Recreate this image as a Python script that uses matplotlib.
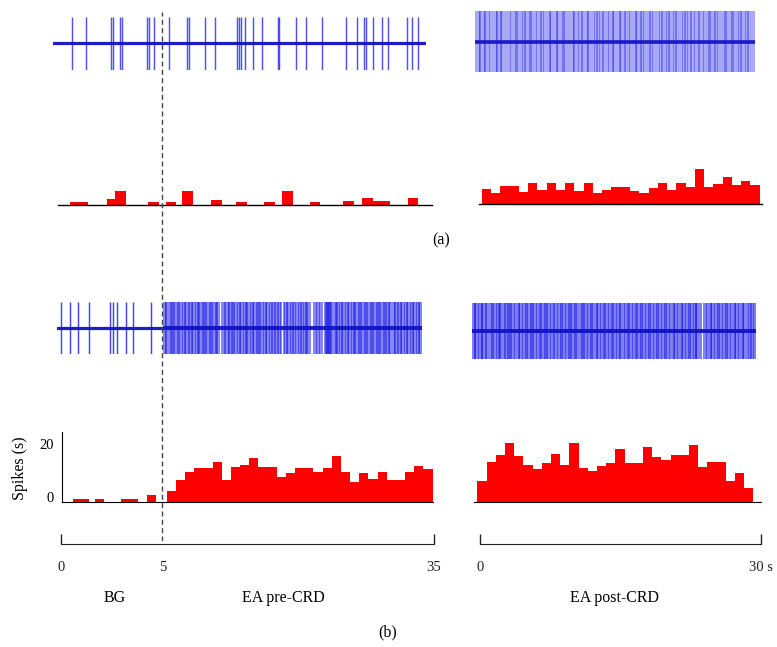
import numpy as np
import matplotlib
matplotlib.use("Agg")
import matplotlib.pyplot as plt

plt.rcParams['font.family'] = ['Liberation Serif', 'DejaVu Serif']

# ---------------- data ----------------
# (a) spike trains (s)
a_left_spikes = [1.81, 3.07, 5.47, 5.66, 6.29, 6.50, 8.79, 9.04, 9.48, 10.91, 12.55, 12.73,
                 14.23, 15.17, 17.29, 17.45, 17.61, 18.02, 18.80, 19.58, 21.11, 21.24, 22.80,
                 23.71, 25.27, 27.49, 28.50, 29.21, 29.37, 30.06, 30.84, 31.46, 33.19, 33.66, 34.28]
a_right_spikes = [0.05, 0.22, 0.41, 0.55, 0.78, 0.95, 1.12, 1.30, 1.52, 1.66, 1.85, 2.08, 2.25, 2.40,
                  2.62, 2.80, 2.97, 3.18, 3.33, 3.55, 3.74, 3.90, 4.12, 4.28, 4.47, 4.66, 4.85, 5.02,
                  5.21, 5.40, 5.63, 5.80, 5.95, 6.18, 6.36, 6.55, 6.71, 6.92, 7.10, 7.31, 7.47, 7.66,
                  7.88, 8.05, 8.22, 8.43, 8.60, 8.81, 8.97, 9.15, 9.38, 9.55, 9.72, 9.94, 10.10, 10.30,
                  10.48, 10.66, 10.85, 11.05, 11.22, 11.43, 11.60, 11.78, 11.98, 12.15, 12.36, 12.52,
                  12.73, 12.90, 13.10, 13.30, 13.46, 13.67, 13.85, 14.02, 14.25, 14.40, 14.60, 14.80,
                  14.97, 15.18, 15.35, 15.56, 15.72, 15.93, 16.12, 16.30, 16.50, 16.66, 16.88, 17.05,
                  17.25, 17.42, 17.63, 17.80, 18.01, 18.18, 18.40, 18.56, 18.75, 18.95, 19.12, 19.33,
                  19.50, 19.70, 19.88, 20.08, 20.25, 20.46, 20.62, 20.83, 21.00, 21.21, 21.38, 21.58,
                  21.77, 21.95, 22.16, 22.33, 22.52, 22.72, 22.90, 23.10, 23.28, 23.47, 23.65, 23.86,
                  24.03, 24.22, 24.41, 24.60, 24.78, 24.98, 25.15, 25.36, 25.53, 25.72, 25.92, 26.10,
                  26.30, 26.47, 26.67, 26.85, 27.05, 27.22, 27.42, 27.60, 27.80, 27.97, 28.17, 28.35,
                  28.55, 28.73, 28.92, 29.10, 29.30, 29.48, 29.68, 29.88,
                  0.58, 1.15, 2.43, 2.83, 4.50, 5.43, 5.98, 7.13, 8.08, 8.84, 9.41, 10.69, 11.46,
                  12.18, 13.13, 13.70, 14.83, 15.59, 16.15, 17.28, 17.83, 18.78, 20.11, 20.86, 21.61,
                  22.55, 23.13, 24.06, 25.18, 25.75, 26.88, 27.63, 28.58, 29.33]

# (a) histograms (spikes per 1-s bin)
a_left_bin_start = [1.09, 1.77, 4.61, 5.33, 8.42, 10.07, 11.63, 14.31, 16.65, 19.27, 20.95,
                    23.55, 26.66, 28.44, 29.45, 30.10, 32.71]
a_left_counts = [1, 1, 2.2, 5, 1, 1, 5, 1.6, 1, 1, 5, 1, 1.4, 2.5, 1.4, 1.4, 2.5]
a_right_counts = [5.6, 4.3, 6.9, 6.9, 4.5, 7.8, 5.5, 7.8, 5.5, 7.8, 5.1, 7.9, 4.3, 5.3, 6.3,
                  6.3, 4.9, 4.1, 6.1, 7.9, 5.4, 7.8, 6.4, 13.4, 6.3, 7.5, 10.1, 7.3, 8.9, 7.4]

# (b) spike trains (s)
b_bg_spikes = [0.16, 0.60, 0.99, 1.51, 2.49, 2.62, 2.81, 3.25, 3.60, 4.43]
b_ea_spikes = [5.05, 5.22, 5.35, 5.61, 5.78, 5.90, 6.12, 6.30, 6.41, 6.66, 6.80, 6.95, 7.18, 7.29,
               7.50, 7.62, 7.85, 7.97, 8.15, 8.33, 8.45, 8.70, 8.82, 9.01, 9.18, 9.30, 9.52, 9.66,
               9.80, 10.02, 10.15, 10.33, 10.47, 10.70, 10.81, 11.00, 11.18, 11.30, 11.48, 11.85,
               12.02, 12.20, 12.31, 12.55, 12.68, 12.83, 13.05, 13.20, 13.33, 13.57, 13.70, 13.88,
               14.03, 14.21, 14.35, 14.58, 14.70, 14.90, 15.08, 15.22, 15.40, 15.55, 15.73, 15.90,
               16.06, 16.25, 16.38, 16.60, 16.72, 16.93, 17.10, 17.24, 17.45, 17.58, 17.80, 17.95,
               18.10, 18.30, 18.50, 18.62, 19.00, 19.15, 19.35, 19.50, 19.72, 19.88, 20.05, 20.25,
               20.40, 20.62, 20.80, 20.95, 21.18, 21.35, 21.52, 21.70, 21.85, 22.05, 22.50, 22.70,
               22.88, 23.05, 23.22, 23.38, 23.80, 23.88, 23.95, 24.02, 24.08, 24.15, 24.22, 24.28,
               24.35, 24.42, 24.50, 24.70, 24.88, 25.05, 25.20, 25.38, 25.55, 25.70, 25.90, 26.05,
               26.22, 26.40, 26.55, 26.75, 26.90, 27.08, 27.25, 27.40, 27.60, 27.75, 27.92, 28.10,
               28.28, 28.45, 28.60, 28.80, 28.95, 29.12, 29.30, 29.45, 29.65, 29.80, 29.98, 30.15,
               30.30, 30.50, 30.66, 30.82, 31.00, 31.18, 31.33, 31.52, 31.70, 31.85, 32.05, 32.20,
               32.38, 32.55, 32.72, 32.90, 33.05, 33.25, 33.40, 33.58, 33.75, 33.92, 34.10, 34.25,
               34.45, 34.60, 34.80, 34.95,
               5.40, 6.02, 6.70, 7.55, 8.38, 9.06, 9.85, 10.52, 11.22, 12.60, 13.10, 13.93,
               14.62, 15.45, 16.10, 16.97, 17.62, 18.35, 19.40, 20.10, 20.99, 21.58, 25.10,
               25.75, 26.45, 27.13, 27.80, 28.50, 29.17, 29.85, 30.55, 31.23, 31.90, 32.60,
               33.30, 33.98, 34.65]
b_post_spikes = [0.05, 0.25, 0.38, 0.50, 0.70, 0.95, 1.08, 1.20, 1.42, 1.55, 1.62, 1.85, 2.05, 2.20,
                 2.38, 2.52, 2.70, 2.88, 3.00, 3.10, 3.35, 3.50, 3.70, 3.82, 3.95, 4.15, 4.30, 4.48,
                 4.60, 4.80, 4.98, 5.12, 5.30, 5.45, 5.62, 5.78, 5.95, 6.10, 6.28, 6.40, 6.60, 6.78,
                 6.92, 7.10, 7.25, 7.45, 7.60, 7.78, 7.95, 8.10, 8.30, 8.42, 8.60, 8.80, 8.95, 9.12,
                 9.30, 9.45, 9.62, 9.80, 9.98, 10.12, 10.30, 10.48, 10.62, 10.80, 10.98, 11.15, 11.30,
                 11.50, 11.65, 11.82, 12.00, 12.15, 12.32, 12.50, 12.68, 12.82, 13.00, 13.18, 13.32,
                 13.50, 13.68, 13.85, 14.00, 14.18, 14.35, 14.52, 14.70, 14.85, 15.02, 15.20, 15.38,
                 15.52, 15.70, 15.88, 16.05, 16.20, 16.38, 16.55, 16.75, 16.90, 17.05, 17.22, 17.40,
                 17.58, 17.72, 17.90, 18.08, 18.25, 18.42, 18.58, 18.75, 18.92, 19.10, 19.28, 19.42,
                 19.60, 19.78, 19.95, 20.12, 20.30, 20.45, 20.62, 20.80, 20.95, 21.12, 21.30, 21.48,
                 21.62, 21.80, 21.98, 22.15, 22.30, 22.48, 22.65, 22.82, 23.00, 23.15, 23.32, 23.50,
                 23.62, 23.67, 23.72, 23.82, 24.00, 24.18, 24.50, 24.68, 24.85, 25.00, 25.20, 25.35,
                 25.52, 25.70, 25.88, 26.02, 26.20, 26.38, 26.55, 26.72, 26.88, 27.05, 27.22, 27.40,
                 27.58, 27.75, 27.90, 28.08, 28.25, 28.42, 28.60, 28.78, 28.95, 29.12, 29.30, 29.48,
                 29.65, 29.82, 29.98,
                 0.30, 0.75, 1.12, 2.10, 2.93, 3.55, 4.07, 5.03, 5.85, 6.45, 7.30, 7.85, 8.68,
                 9.50, 10.35, 10.90, 11.70, 12.55, 13.25, 14.05, 14.90, 15.60, 16.45, 17.30,
                 17.95, 18.80, 19.65, 20.50, 21.35, 22.20, 22.90, 25.25, 26.10, 26.95, 27.80,
                 28.65, 29.50]

# (b) histograms (spikes per bin)
b_left_bg_bin_start = [0.75, 1.56, 3.18, 5.98, 6.84, 8.86]
b_left_bg_counts = [1.2, 1.2, 1.2, 1.2, 1.2, 2.6]
b_left_ea_counts = [4.0, 8.1, 11.1, 12.6, 12.6, 14.9, 8.4, 13.0, 14.0, 16.4, 13.0, 13.0, 9.3,
                    10.8, 12.9, 12.9, 11.3, 12.6, 17.4, 11.3, 7.6, 10.8, 8.5, 11.1, 8.1, 8.1,
                    11.1, 13.6, 12.3]
b_right_counts = [7.9, 14.8, 17.6, 21.8, 17.3, 13.6, 12.1, 14.6, 17.8, 13.9, 21.8, 12.6, 11.4,
                  13.4, 14.6, 19.8, 14.6, 14.6, 20.5, 16.9, 15.6, 17.4, 17.4, 21.4, 13.0, 14.8,
                  14.8, 7.8, 10.8, 5.3]

y_ticks = [0, 20]
pre_ticks = [0, 5, 35]
pre_ticklabels = ['0', '5', '35']
post_ticks = [0, 30]
post_ticklabels = ['0', '30 s']
bg_onset = 5
ylabel = 'Spikes (s)'
segment_labels = ['BG', 'EA pre-CRD', 'EA post-CRD']
panel_labels = ['(a)', '(b)']

# ---------------- style ----------------
W, H = 777, 647
RED = '#ff0000'
SPIKE = '#2626ea'
BASE = '#1212c4'
fig = plt.figure(figsize=(W / 100, H / 100), dpi=100)


def add_ax(x0, x1, ytop, ybot):
    return fig.add_axes([x0 / W, 1 - ybot / H, (x1 - x0) / W, (ybot - ytop) / H])


def clean(ax, keep=()):
    for s in ['left', 'right', 'top', 'bottom']:
        ax.spines[s].set_visible(s in keep)
    ax.set_xticks([])
    ax.set_yticks([])
    ax.patch.set_alpha(0)


def trace(ax, spikes, t0, t1, alpha, lw, blw=2.3):
    clean(ax)
    ax.set_xlim(t0, t1)
    ax.set_ylim(-1, 1)
    ax.vlines(spikes, -1, 1, color=SPIKE, lw=lw, alpha=alpha)
    ax.axhline(0, color=BASE, lw=blw, alpha=0.95)


# (a) traces
trace(add_ax(53, 426, 16.7, 70), a_left_spikes, 0, 35, 0.8, 1.05)
trace(add_ax(474.7, 754.7, 11.3, 72.3), a_right_spikes, 0, 30, 0.52, 1.1, 2.6)

# (a) histograms
PXU = 2.67  # pixels per spike unit
ax = add_ax(58, 432, 204.7 - 20 * PXU, 204.7)
clean(ax, keep=('bottom',))
ax.spines['bottom'].set_linewidth(1.0)
ax.bar(a_left_bin_start, a_left_counts, width=1, align='edge', color=RED, linewidth=0)
ax.set_xlim(0, 35)
ax.set_ylim(0, 20)

ax = add_ax(479, 762, 204.3 - 20 * PXU, 204.3)
clean(ax, keep=('bottom',))
ax.spines['bottom'].set_linewidth(1.0)
ax.bar(np.arange(len(a_right_counts)), a_right_counts, width=1, align='edge', color=RED, linewidth=0)
ax.set_xlim(-0.3, 30.25)
ax.set_ylim(0, 20)

# (b) traces
trace(add_ax(57.3, 163, 301.7, 354), b_bg_spikes, 0, 5, 0.85, 1.05)
trace(add_ax(163, 422, 301.7, 354), b_ea_spikes, 5, 35, 0.7, 1.15, 2.8)
trace(add_ax(471.7, 756, 303, 358.7), b_post_spikes, 0, 30, 0.7, 1.2, 2.8)

# (b) histograms
ax = add_ax(62, 433, 432, 502)
clean(ax, keep=('bottom', 'left'))
ax.bar(b_left_bg_bin_start, b_left_bg_counts, width=1, align='edge', color=RED, linewidth=0)
ax.bar(np.arange(len(b_left_ea_counts)) + 11, b_left_ea_counts, width=1, align='edge',
       color=RED, linewidth=0)
ax.set_xlim(-0.41, 40.04)
ax.set_ylim(0, 70 / PXU)
ax.set_yticks(y_ticks)
ax.set_yticklabels([str(v) for v in y_ticks], fontsize=10.5)
ax.tick_params(axis='y', length=0, pad=6)
for lbl in ax.get_yticklabels():
    lbl.set_va('baseline')

ax = add_ax(474, 760.7, 433, 501.7)
clean(ax, keep=('bottom',))
ax.bar(np.arange(len(b_right_counts)), b_right_counts, width=1, align='edge', color=RED, linewidth=0)
ax.set_xlim(-0.36, 30.8)
ax.set_ylim(0, 68.7 / PXU)


# time axes (piecewise: BG 0-5 s is drawn wider than the EA part)
def fwd(t):
    t = np.asarray(t, float)
    return np.where(t <= 5, t * 20.4, 102 + (t - 5) * 9.033)


def inv(u):
    u = np.asarray(u, float)
    return np.where(u <= 102, u / 20.4, 5 + (u - 102) / 9.033)


tax = add_ax(61, 434, 530, 544)
clean(tax, keep=('bottom',))
tax.set_xscale('function', functions=(fwd, inv))
tax.set_xlim(0, 35)
tax.set_xticks(pre_ticks)
tax.set_xticklabels(pre_ticklabels, fontsize=10.5)
tax.tick_params(axis='x', direction='in', length=7.5, width=1, pad=12, colors='#222222')
tax.spines['bottom'].set_color('#222222')
tax.xaxis.get_major_ticks()[1].tick1line.set_visible(False)

pax = add_ax(480, 761, 530, 544)
clean(pax, keep=('bottom',))
pax.set_xlim(0, 30)
pax.set_xticks(post_ticks)
pax.set_xticklabels(post_ticklabels, fontsize=10.5)
pax.tick_params(axis='x', direction='in', length=7.5, width=1, pad=12, colors='#222222')
pax.spines['bottom'].set_color('#222222')

# dashed onset line
oax = add_ax(61, 434, 12, 541)
oax.axis('off')
oax.set_xscale('function', functions=(fwd, inv))
oax.set_xlim(0, 35)
oax.set_ylim(0, 1)
oax.axvline(bg_onset - 0.05, color='#444444', lw=1.0, dashes=(3.6, 2.4))


# texts
def ftext(x, y, s, **kw):
    fig.text(x / W, 1 - y / H, s, ha='center', va='center', **kw)


ftext(20, 468, ylabel, rotation=90, fontsize=11.5)
ftext(115, 598, segment_labels[0], fontsize=11.5)
ftext(283, 598, segment_labels[1], fontsize=11.5)
ftext(615, 598, segment_labels[2], fontsize=11.5)
ftext(441, 240, panel_labels[0], fontsize=11.5)
ftext(388, 632, panel_labels[1], fontsize=11.5)

fig.savefig('out.png', dpi=100)
